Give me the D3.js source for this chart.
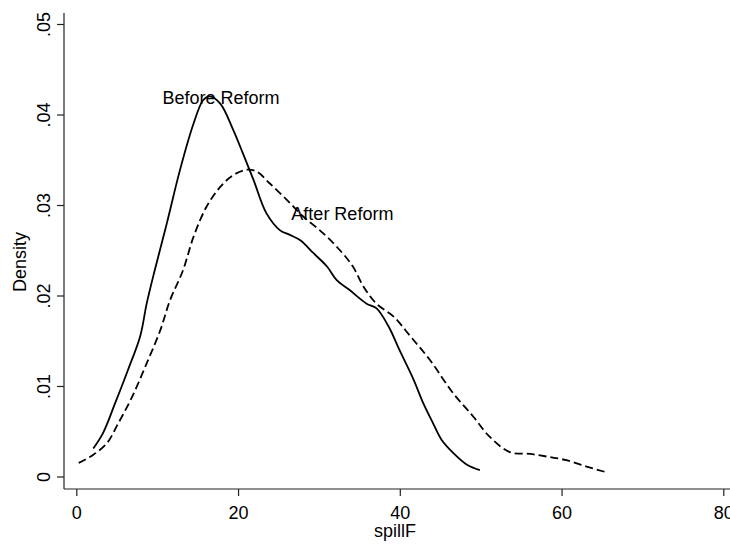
<!DOCTYPE html>
<html>
<head>
<meta charset="utf-8">
<script src="https://cdn.jsdelivr.net/npm/d3@7"></script>
<style>
  html, body { margin: 0; padding: 0; background: #fff; }
  svg { display: block; }
  text { font-family: "Liberation Sans", Arial, sans-serif; fill: #000; }
</style>
</head>
<body>
<svg id="chart" width="730" height="546"></svg>
<script>
// Kernel density of spillF, before and after the reform
const beforeX = [2.1, 3.3, 4.8, 6.4, 7.9, 8.7, 9.7, 11.2, 12.8, 14.5, 15.7, 16.5, 17.8, 19.4, 20.6, 21.9, 23.5, 25.2, 26.4, 27.7, 29.3, 31.0, 32.2, 33.8, 35.9, 37.1, 38.6, 40.0, 41.7, 42.9, 44.1, 45.2, 46.6, 48.3, 49.9];
const beforeY = [0.0031, 0.0048, 0.0081, 0.0118, 0.0155, 0.0191, 0.0228, 0.0280, 0.0338, 0.0390, 0.0416, 0.0420, 0.0412, 0.0383, 0.0357, 0.0328, 0.0291, 0.0272, 0.0267, 0.0261, 0.0247, 0.0232, 0.0217, 0.0206, 0.0191, 0.0186, 0.0166, 0.0139, 0.0107, 0.0081, 0.0059, 0.0040, 0.0026, 0.0013, 0.0007];

const afterX = [0.3, 2.1, 3.8, 5.2, 6.9, 8.7, 10.4, 11.6, 13.2, 14.5, 16.1, 17.8, 19.4, 21.1, 22.3, 23.9, 26.0, 28.1, 30.5, 32.6, 34.2, 35.5, 37.1, 39.2, 41.3, 43.7, 46.6, 49.1, 51.1, 53.6, 56.1, 58.2, 60.6, 63.1, 65.4];
const afterY = [0.0015, 0.0024, 0.0037, 0.0059, 0.0088, 0.0125, 0.0162, 0.0195, 0.0228, 0.0265, 0.0298, 0.0320, 0.0333, 0.0339, 0.0337, 0.0324, 0.0306, 0.0287, 0.0269, 0.0250, 0.0232, 0.0210, 0.0191, 0.0177, 0.0155, 0.0129, 0.0092, 0.0066, 0.0044, 0.0027, 0.0025, 0.0022, 0.0018, 0.0011, 0.0005];

const xTicks = [0, 20, 40, 60, 80];
const yTicks = [0, 0.01, 0.02, 0.03, 0.04, 0.05];
const yTickLabels = ["0", ".01", ".02", ".03", ".04", ".05"];

// Curve annotations
const labelText = ["Before Reform", "After Reform"];
const labelX = [17.9, 32.9];
const labelY = [0.0419, 0.0290];

const svg = d3.select("#chart");
const fontSize = 18;

const x = d3.scaleLinear().domain([0, 80]).range([76.3, 723.3]);
const y = d3.scaleLinear().domain([0, 0.05]).range([476.5, 24]);

// plot region edges (axes sit a little outside the tick range)
const plotLeft = 64, plotBottom = 489, plotTop = 13, plotRight = 730;
const axisColor = "#222";

// y axis
const yAxis = d3.axisLeft(y)
  .tickValues(yTicks)
  .tickFormat((d, i) => yTickLabels[i])
  .tickSize(7)
  .tickSizeOuter(0);
const gy = svg.append("g").attr("transform", `translate(${plotLeft},0)`).call(yAxis);
gy.select(".domain").remove();
gy.selectAll(".tick line").attr("stroke", axisColor).attr("stroke-width", 1.2);
gy.selectAll(".tick text")
  .attr("x", null).attr("dy", null)
  .attr("text-anchor", "middle")
  .attr("transform", "translate(-14,0) rotate(-90)")
  .style("font-size", fontSize + "px")
  .style("font-family", "'Liberation Sans', Arial, sans-serif")
  .attr("fill", "#000");
svg.append("line")
  .attr("x1", plotLeft).attr("x2", plotLeft).attr("y1", plotTop).attr("y2", plotBottom)
  .attr("stroke", axisColor).attr("stroke-width", 1.2);

// x axis
const xAxis = d3.axisBottom(x)
  .tickValues(xTicks)
  .tickFormat(d3.format("d"))
  .tickSize(7)
  .tickSizeOuter(0);
const gx = svg.append("g").attr("transform", `translate(0,${plotBottom})`).call(xAxis);
gx.select(".domain").remove();
gx.selectAll(".tick line").attr("stroke", axisColor).attr("stroke-width", 1.2);
gx.selectAll(".tick text")
  .attr("y", 30).attr("dy", null)
  .style("font-size", fontSize + "px")
  .style("font-family", "'Liberation Sans', Arial, sans-serif")
  .attr("fill", "#000");
svg.append("line")
  .attr("x1", plotLeft).attr("x2", plotRight).attr("y1", plotBottom).attr("y2", plotBottom)
  .attr("stroke", axisColor).attr("stroke-width", 1.2);

// axis titles
svg.append("text")
  .attr("x", 395).attr("y", 537)
  .attr("text-anchor", "middle")
  .style("font-size", fontSize + "px")
  .text("spillF");
svg.append("text")
  .attr("transform", "translate(26,262) rotate(-90)")
  .attr("text-anchor", "middle")
  .style("font-size", fontSize + "px")
  .text("Density");

// density curves
const line = d3.line()
  .x(d => x(d[0]))
  .y(d => y(d[1]))
  .curve(d3.curveCatmullRom.alpha(0.5));

const beforePts = beforeX.map((v, i) => [v, beforeY[i]]);
const afterPts = afterX.map((v, i) => [v, afterY[i]]);

svg.append("path")
  .datum(beforePts)
  .attr("d", line)
  .attr("fill", "none")
  .attr("stroke", "#000")
  .attr("stroke-width", 1.8);

svg.append("path")
  .datum(afterPts)
  .attr("d", line)
  .attr("fill", "none")
  .attr("stroke", "#000")
  .attr("stroke-width", 1.8)
  .attr("stroke-dasharray", "8,4");

// curve labels
svg.selectAll("text.curve-label")
  .data(labelText)
  .enter().append("text")
  .attr("class", "curve-label")
  .attr("x", (d, i) => x(labelX[i]))
  .attr("y", (d, i) => y(labelY[i]))
  .attr("dy", "0.35em")
  .attr("text-anchor", "middle")
  .style("font-size", fontSize + "px")
  .text(d => d);
</script>
</body>
</html>
